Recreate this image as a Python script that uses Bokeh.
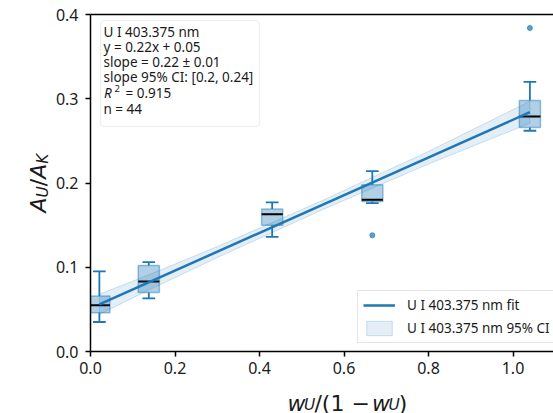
import numpy as np
from bokeh.plotting import figure
from bokeh.layouts import row, column
from bokeh.models import (Range1d, FixedTicker, LinearAxis, Label, BoxAnnotation,
                          Legend, LegendItem, NumeralTickFormatter)
from bokeh.core.properties import value
from bokeh.embed import file_html
from bokeh.resources import INLINE

# ---------------- data ----------------
x_pos      = [0.021, 0.138, 0.430, 0.667, 1.040]
whisker_lo = [0.035, 0.063, 0.136, 0.176, 0.262]
q1         = [0.046, 0.070, 0.150, 0.178, 0.266]
median     = [0.055, 0.083, 0.163, 0.180, 0.279]
q3         = [0.066, 0.102, 0.169, 0.198, 0.298]
whisker_hi = [0.095, 0.106, 0.177, 0.214, 0.320]
outlier_x  = [0.667, 1.040]
outlier_y  = [0.138, 0.384]

fit_x = [0.021, 1.040]
fit_y = [0.056, 0.284]

ci_x     = [0.021, 0.138, 0.300, 0.550, 0.800, 1.040]
ci_lower = [0.044, 0.073, 0.1115, 0.1685, 0.2225, 0.271]
ci_upper = [0.068, 0.091, 0.1245, 0.1795, 0.2375, 0.297]

x_ticks = [0.0, 0.2, 0.4, 0.6, 0.8, 1.0]
y_ticks = [0.0, 0.1, 0.2, 0.3, 0.4]

info_lines = ["U I 403.375 nm", "y = 0.22x + 0.05", "slope = 0.22 \u00b1 0.01",
              "slope 95% CI: [0.2, 0.24]", None, "n = 44"]
r2_text = "= 0.915"
legend_fit = "U I 403.375 nm fit"
legend_ci = "U I 403.375 nm 95% CI"

# ---------------- styling ----------------
BLUE = "#1f77b4"
FONT = "Noto Sans"
MATH = "DejaVu Sans"
TXT = "#1a1a1a"
box_width = 0.05
cap_width = 0.03

W, H = 553, 413          # whole page
LEFT_W = 50              # strip holding the y label
MAIN_H = 383             # main plot height; the rest holds the x label
FX0, FY0 = 90.0, 351.0   # page px of data (0, 0)
SX, SY = 422.5, 842.5    # px per data unit

def dx(px):
    return (px - FX0) / SX

def dy(py):
    return (FY0 - py) / SY

p = figure(width=W - LEFT_W, height=MAIN_H, output_backend="svg", toolbar_location=None,
           title=None,
           x_range=Range1d(0, (W - FX0) / SX), y_range=Range1d(0, 0.4),
           min_border_left=int(FX0 - LEFT_W), min_border_right=0, min_border_top=14,
           min_border_bottom=MAIN_H - int(FY0))
p.xgrid.visible = False
p.ygrid.visible = False
p.outline_line_color = None
p.background_fill_color = "white"

for ax in (p.xaxis[0], p.yaxis[0]):
    ax.axis_line_width = 1.5
    ax.axis_line_color = "black"
    ax.major_tick_line_width = 1.5
    ax.major_tick_line_color = "black"
    ax.major_tick_out = 5
    ax.major_tick_in = 0
    ax.minor_tick_line_color = None
    ax.major_label_text_font = FONT
    ax.major_label_text_font_size = "16px"
    ax.major_label_text_color = TXT
    ax.formatter = NumeralTickFormatter(format="0.0")
p.xaxis.ticker = FixedTicker(ticks=x_ticks)
p.yaxis.ticker = FixedTicker(ticks=y_ticks)
p.xaxis.major_label_standoff = 5
p.yaxis.major_label_standoff = 7

top_axis = LinearAxis(ticker=FixedTicker(ticks=[]), axis_line_width=1.5, axis_line_color="black",
                      major_tick_line_color=None, minor_tick_line_color=None,
                      major_label_text_font_size="0px", major_label_standoff=0)
p.add_layout(top_axis, "above")

# ---------------- boxes ----------------
xa = np.array(x_pos)
p.vbar(x=x_pos, width=box_width, bottom=q1, top=q3, fill_color=BLUE, fill_alpha=0.35,
       line_color=BLUE, line_alpha=0.45, line_width=1.5)
p.segment(x0=x_pos, y0=q3, x1=x_pos, y1=whisker_hi, line_color=BLUE, line_width=1.8)
p.segment(x0=x_pos, y0=q1, x1=x_pos, y1=whisker_lo, line_color=BLUE, line_width=1.8)
p.segment(x0=xa - cap_width / 2, y0=whisker_hi, x1=xa + cap_width / 2, y1=whisker_hi,
          line_color=BLUE, line_width=1.8)
p.segment(x0=xa - cap_width / 2, y0=whisker_lo, x1=xa + cap_width / 2, y1=whisker_lo,
          line_color=BLUE, line_width=1.8)
p.segment(x0=xa - box_width / 2, y0=median, x1=xa + box_width / 2, y1=median,
          line_color="black", line_width=2)
p.scatter(outlier_x, outlier_y, size=5, fill_color=BLUE, line_color=BLUE, alpha=0.7)

# ---------------- fit & CI ----------------
band = p.patch(ci_x + ci_x[::-1], ci_lower + ci_upper[::-1], fill_color=BLUE, fill_alpha=0.12,
               line_color=BLUE, line_alpha=0.2, line_width=1)
fit = p.line(fit_x, fit_y, line_color=BLUE, line_width=2.5)

legend = Legend(items=[LegendItem(label=legend_fit, renderers=[fit]),
                       LegendItem(label=legend_ci, renderers=[band])],
                location=(267, 8), margin=0, padding=5, spacing=5,
                glyph_width=32, glyph_height=18, label_standoff=12,
                label_text_font=FONT, label_text_font_size="13.5px", label_text_color=TXT,
                border_line_color="#cccccc", border_line_width=1,
                background_fill_color="white", background_fill_alpha=0.8)
p.add_layout(legend)

# ---------------- info box ----------------
p.add_layout(BoxAnnotation(left=dx(100), right=dx(259), top=dy(20), bottom=dy(126),
                           fill_color="white", fill_alpha=0.85, line_color="#c8c8c8",
                           line_width=1.2, border_radius=4))
line_y = [31, 46, 61, 76, 92.5, 108.5]
for t, yy in zip(info_lines, line_y):
    if t is None:
        continue
    p.add_layout(Label(x=dx(103), y=dy(yy), text=t, text_font=FONT, text_font_size="13.5px",
                       text_baseline="middle", text_color=TXT))
p.add_layout(Label(x=dx(103.5), y=dy(92.5), text="R", text_font=FONT, text_font_size="13.5px",
                   text_font_style="italic", text_baseline="middle", text_color=TXT))
p.add_layout(Label(x=dx(114), y=dy(88), text="2", text_font=FONT, text_font_size="9.5px",
                   text_baseline="middle", text_color=TXT))
p.add_layout(Label(x=dx(125), y=dy(92.5), text=r2_text, text_font=FONT, text_font_size="13.5px",
                   text_baseline="middle", text_color=TXT))

# ---------------- axis-label strips (math-like labels) ----------------
def strip(w, h):
    f = figure(width=w, height=h, output_backend="svg", toolbar_location=None, title=None,
               x_range=Range1d(0, w), y_range=Range1d(0, h),
               x_axis_type=None, y_axis_type=None, min_border=0)
    f.xgrid.visible = False
    f.ygrid.visible = False
    f.outline_line_color = None
    return f

# y label: A_U/A_K, rotated, page coordinates
yl = strip(LEFT_W, H)
ang = np.pi / 2
ypieces = [  # (page x of baseline, page y of start, text, size, italic)
    (38, 212, "A", 22, True),
    (42, 197, "U", 15.4, True),
    (38, 185.7, "/", 22, False),
    (38, 178.3, "A", 22, True),
    (42, 163.3, "K", 15.4, True),
]
for bx, by, t, s, it in ypieces:
    yl.text(x=[bx], y=[H - by], text=[t], angle=ang, text_font=value(MATH),
            text_font_size=value(f"{s}px"), text_font_style="italic" if it else "normal",
            text_align="left", text_baseline="alphabetic", text_color=TXT)

# x label: w_U/(1 - w_U)
XL_H = H - MAIN_H
xl = strip(W - LEFT_W, XL_H)
xb = 402.5
xpieces = [
    (264, xb, "w", 22, True),
    (282, xb + 2, "U", 15.4, True),
    (293.3, xb, "/(1 \u2212 ", 22, False),
    (355.7, xb, "w", 22, True),
    (373.7, xb + 2, "U", 15.4, True),
    (385, xb, ")", 22, False),
]
for bx, by, t, s, it in xpieces:
    xl.text(x=[bx - LEFT_W], y=[H - by], text=[t], text_font=value(MATH),
            text_font_size=value(f"{s}px"), text_font_style="italic" if it else "normal",
            text_align="left", text_baseline="alphabetic", text_color=TXT)

layout = row(yl, column(p, xl, spacing=0), spacing=0)
open("out.html", "w").write(file_html(layout, INLINE))
